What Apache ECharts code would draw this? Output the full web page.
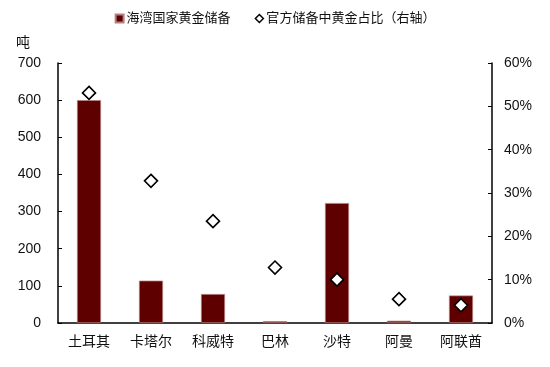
<!DOCTYPE html>
<html><head><meta charset="utf-8">
<script src="https://cdn.jsdelivr.net/npm/echarts@6/dist/echarts.min.js"></script>
<style>html,body{margin:0;padding:0;background:#fff}#c{width:550px;height:367px}</style>
</head><body><div id="c"></div>
<script>
const categories = ['土耳其','卡塔尔','科威特','巴林','沙特','阿曼','阿联酋'];
const goldReserve = [600, 114, 78, 5, 323, 6, 74];
const goldShare = [53.1, 32.8, 23.5, 12.8, 10.0, 5.5, 4.1];
const leftTicks = [0,100,200,300,400,500,600,700];
const rightTicks = [0,10,20,30,40,50,60];
const seriesNames = ['海湾国家黄金储备','官方储备中黄金占比（右轴）'];

const font = '"Liberation Sans", Arial, "Noto Sans CJK SC", sans-serif';
const chart = echarts.init(document.getElementById('c'), null, {renderer:'canvas'});
chart.setOption({
  animation:false,
  textStyle:{fontFamily:font},
  legend:{
    top:7, left:'center', itemGap:24, itemWidth:8, itemHeight:8,
    textStyle:{fontSize:13, color:'#111', fontFamily:font, padding:[0,0,0,-2]},
    data:[{name:seriesNames[0], icon:'rect'},{name:seriesNames[1], icon:'diamond', itemStyle:{color:'#fff',borderColor:'#000',borderWidth:1.5}}]
  },
  grid:{left:58, right:58, top:63, bottom:44},
  xAxis:{
    type:'category', data:categories, boundaryGap:true,
    axisLine:{lineStyle:{color:'#000', width:1.5}},
    axisTick:{inside:true, length:5, lineStyle:{color:'#000'}},
    axisLabel:{fontSize:14, color:'#111', margin:12, fontFamily:font}
  },
  yAxis:[{
    type:'value', min:0, max:700, interval:100,
    name:'吨', nameLocation:'end', nameGap:13,
    nameTextStyle:{align:'right', padding:[0,28,0,0], fontSize:14, color:'#111'},
    axisLine:{show:true, lineStyle:{color:'#000', width:1.5}},
    axisTick:{show:true, inside:true, length:4, lineStyle:{color:'#000'}},
    splitLine:{show:false},
    axisLabel:{fontSize:14, color:'#111', margin:17, fontFamily:font}
  },{
    type:'value', min:0, max:60, interval:10, position:'right',
    axisLine:{show:true, lineStyle:{color:'#000', width:1.5}},
    axisTick:{show:true, inside:true, length:4, lineStyle:{color:'#000'}},
    splitLine:{show:false},
    axisLabel:{fontSize:14, color:'#111', margin:12, formatter:v=>v+'%', fontFamily:font}
  }],
  series:[{
    name:seriesNames[0], type:'bar', data:goldReserve, barWidth:24,
    itemStyle:{color:'#5e0000', borderColor:'#b88080', borderWidth:0.7}
  },{
    name:seriesNames[1], type:'scatter', yAxisIndex:1, data:goldShare,
    symbol:'diamond', symbolSize:[13,13],
    itemStyle:{color:'#fff', borderColor:'#000', borderWidth:1.6, opacity:1},
    z:5
  }]
});
</script></body></html>
